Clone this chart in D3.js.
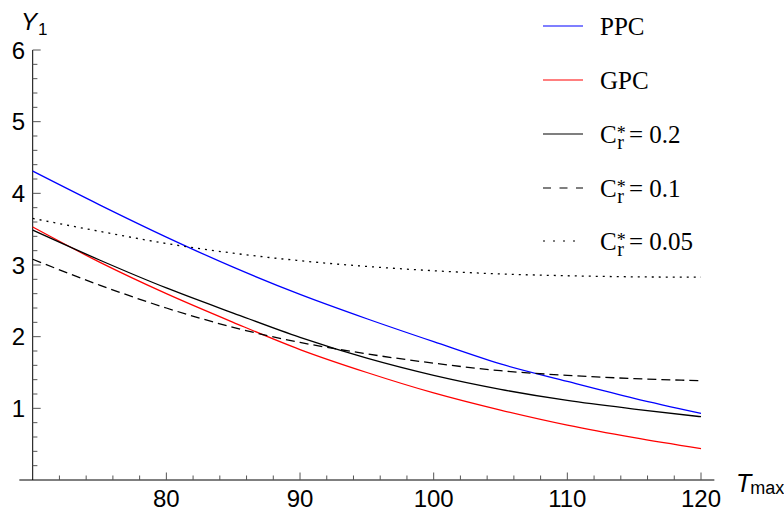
<!DOCTYPE html>
<html>
<head>
<meta charset="utf-8">
<script src="https://cdn.jsdelivr.net/npm/d3@7"></script>
<style>
  html, body { margin: 0; padding: 0; background: #fff; }
  svg { display: block; }
</style>
</head>
<body>
<svg id="chart" width="784" height="511"></svg>
<script>
// T_max sample points shared by every series
const tmax = [70, 75, 80, 85, 90, 95, 100, 105, 110, 115, 120];

// Y_1 values per series
const ppc   = [4.31, 3.84, 3.39, 2.97, 2.59, 2.25, 1.93, 1.62, 1.376, 1.14, 0.93];
const gpc   = [3.53, 3.04, 2.60, 2.20, 1.82, 1.50, 1.215, 0.975, 0.765, 0.59, 0.437];
const cr020 = [3.487, 3.07, 2.68, 2.33, 1.99, 1.70, 1.46, 1.265, 1.11, 0.99, 0.883];
const cr010 = [3.08, 2.72, 2.40, 2.13, 1.92, 1.76, 1.63, 1.525, 1.46, 1.415, 1.385];
const cr005 = [3.65, 3.47, 3.30, 3.165, 3.06, 2.98, 2.92, 2.875, 2.85, 2.835, 2.83];

// tick labels
const xTickLabels = [80, 90, 100, 110, 120];
const yTickLabels = [1, 2, 3, 4, 5, 6];

// legend entries: plain names, or the C_r^* value for the threshold series
const legendNames = ["PPC", "GPC", null, null, null];
const legendValues = [null, null, "0.2", "0.1", "0.05"];

const series = [
  { values: ppc,   color: "#0000ff", dash: null,  legendDash: null },
  { values: gpc,   color: "#ff0000", dash: null,  legendDash: null },
  { values: cr020, color: "#000000", dash: null,  legendDash: null },
  { values: cr010, color: "#000000", dash: "9,5", legendDash: "8,8.5" },
  { values: cr005, color: "#000000", dash: "2,5", legendDash: "2,8" }
];

const svg = d3.select("#chart");

const x = d3.scaleLinear().domain([70, 120]).range([32.7, 701]);
const y = d3.scaleLinear().domain([0, 6]).range([480, 50]);

const sans = "'Liberation Sans', Arial, Helvetica, sans-serif";
const serif = "'Liberation Serif', 'Times New Roman', serif";
const tickColor = "#555";

// ---- axes ----
const axes = svg.append("g");

// horizontal axis, drawn a little past the data range on each side
axes.append("line")
  .attr("x1", x(69)).attr("x2", x(121))
  .attr("y1", y(0)).attr("y2", y(0))
  .attr("stroke", "#000").attr("stroke-width", 1);

// vertical axis
axes.append("line")
  .attr("x1", x(70)).attr("x2", x(70))
  .attr("y1", y(0)).attr("y2", y(6))
  .attr("stroke", "#000").attr("stroke-width", 1);

// x ticks: major every 10, minor every 2 (pointing up into the plot)
const xMinor = d3.range(72, 121, 2);
axes.selectAll(".xt").data(xMinor).join("line")
  .attr("x1", d => x(d)).attr("x2", d => x(d))
  .attr("y1", y(0))
  .attr("y2", d => y(0) - (d % 10 === 0 ? 7.5 : 4.5))
  .attr("stroke", tickColor).attr("stroke-width", 1);

axes.selectAll(".xl").data(xTickLabels).join("text")
  .attr("x", d => x(d)).attr("y", 507)
  .attr("text-anchor", "middle")
  .attr("font-family", sans).attr("font-size", 24)
  .attr("fill", "#000")
  .text(d => d);

// y ticks: major every 1, minor every 0.2 (pointing right into the plot)
const yMinor = d3.range(1, 31).map(i => i / 5);
axes.selectAll(".yt").data(yMinor).join("line")
  .attr("x1", x(70))
  .attr("x2", (d, i) => x(70) + ((i + 1) % 5 === 0 ? 8 : 4.7))
  .attr("y1", d => y(d)).attr("y2", d => y(d))
  .attr("stroke", tickColor).attr("stroke-width", 1);

axes.selectAll(".yl").data(yTickLabels).join("text")
  .attr("x", 25).attr("y", d => y(d) + 8.5)
  .attr("text-anchor", "end")
  .attr("font-family", sans).attr("font-size", 24)
  .attr("fill", "#000")
  .text(d => d);

// axis titles
const yTitle = axes.append("text")
  .attr("x", 21).attr("y", 30)
  .attr("font-family", sans).attr("fill", "#000");
yTitle.append("tspan").attr("font-size", 24).attr("font-style", "italic").text("Y");
yTitle.append("tspan").attr("font-size", 17).attr("dx", 1).attr("dy", 5).text("1");

const xTitle = axes.append("text")
  .attr("x", 736).attr("y", 492)
  .attr("font-family", sans).attr("fill", "#000");
xTitle.append("tspan").attr("font-size", 25).attr("font-style", "italic").text("T");
xTitle.append("tspan").attr("font-size", 18).attr("dx", -1).attr("dy", 2).text("max");

// ---- curves ----
const line = d3.line()
  .x((d, i) => x(tmax[i]))
  .y(d => y(d))
  .curve(d3.curveMonotoneX);

const curves = svg.append("g");
series.forEach(s => {
  curves.append("path")
    .attr("d", line(s.values))
    .attr("fill", "none")
    .attr("stroke", s.color)
    .attr("stroke-width", 1.3)
    .attr("stroke-dasharray", s.dash);
});

// ---- legend ----
const legend = svg.append("g");
const legendRowY = [26, 80, 134, 188, 241];

series.forEach((s, i) => {
  const ly = legendRowY[i];
  legend.append("line")
    .attr("x1", 543).attr("x2", 583)
    .attr("y1", ly).attr("y2", ly)
    .attr("stroke", s.color)
    .attr("stroke-width", 1.2)
    .attr("stroke-dasharray", s.legendDash);

  const base = ly + 9;
  const t = legend.append("text")
    .attr("x", 600).attr("y", base)
    .attr("font-family", serif).attr("font-size", 25)
    .attr("fill", "#000");

  if (legendValues[i] === null) {
    t.text(legendNames[i]);
  } else {
    // C with subscript r and superscript * stacked over each other
    t.append("tspan").text("C");
    const r = t.append("tspan").attr("font-size", 20).attr("dx", 0.5).attr("dy", 6).text("r");
    const rw = r.node().getComputedTextLength();
    t.append("tspan").attr("font-size", 18).attr("dx", -rw - 0.5).attr("dy", -10).text("*");
    t.append("tspan").attr("x", 629).attr("dy", 4).text("= " + legendValues[i]);
  }
});
</script>
</body>
</html>
